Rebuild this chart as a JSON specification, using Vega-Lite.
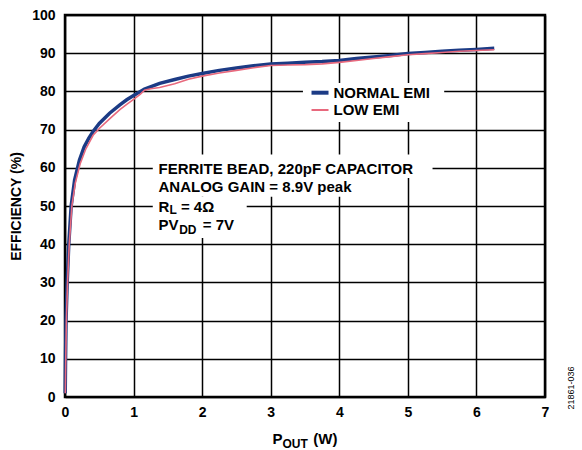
{
  "$schema": "https://vega.github.io/schema/vega-lite/v6.json",
  "width": 480,
  "height": 382,
  "autosize": {"type": "none"},
  "padding": {"left": 65, "top": 15, "right": 37, "bottom": 53},
  "background": "white",
  "config": {
    "font": "Liberation Sans",
    "view": {"stroke": "black", "strokeWidth": 2.5},
    "axis": {
      "domain": false,
      "ticks": false,
      "grid": true,
      "gridColor": "black",
      "gridWidth": 1.5,
      "gridOpacity": 1,
      "labelFlush": false,
      "labelOverlap": false,
      "labelFont": "Liberation Sans",
      "labelFontSize": 14,
      "labelFontWeight": "bold",
      "labelColor": "black",
      "titleFont": "Liberation Sans",
      "titleFontSize": 14,
      "titleFontWeight": "bold",
      "titleColor": "black"
    },
    "axisX": {"labelPadding": 8},
    "axisY": {"labelPadding": 10, "titlePadding": 8}
  },
  "datasets": {
    "curves": [
      {"series": "NORMAL EMI", "pout": 0.003, "eff": 1},
      {"series": "NORMAL EMI", "pout": 0.008, "eff": 10},
      {"series": "NORMAL EMI", "pout": 0.015, "eff": 20},
      {"series": "NORMAL EMI", "pout": 0.032, "eff": 30},
      {"series": "NORMAL EMI", "pout": 0.055, "eff": 40},
      {"series": "NORMAL EMI", "pout": 0.09, "eff": 50},
      {"series": "NORMAL EMI", "pout": 0.14, "eff": 56.8},
      {"series": "NORMAL EMI", "pout": 0.21, "eff": 62},
      {"series": "NORMAL EMI", "pout": 0.28, "eff": 65.5},
      {"series": "NORMAL EMI", "pout": 0.35, "eff": 67.8},
      {"series": "NORMAL EMI", "pout": 0.41, "eff": 69.5},
      {"series": "NORMAL EMI", "pout": 0.5, "eff": 71.6},
      {"series": "NORMAL EMI", "pout": 0.65, "eff": 74.3},
      {"series": "NORMAL EMI", "pout": 0.8, "eff": 76.5},
      {"series": "NORMAL EMI", "pout": 0.9, "eff": 77.8},
      {"series": "NORMAL EMI", "pout": 1.0, "eff": 78.9},
      {"series": "NORMAL EMI", "pout": 1.16, "eff": 80.6},
      {"series": "NORMAL EMI", "pout": 1.38, "eff": 82.1},
      {"series": "NORMAL EMI", "pout": 1.6, "eff": 83.1},
      {"series": "NORMAL EMI", "pout": 1.8, "eff": 84.0},
      {"series": "NORMAL EMI", "pout": 2.0, "eff": 84.7},
      {"series": "NORMAL EMI", "pout": 2.25, "eff": 85.5},
      {"series": "NORMAL EMI", "pout": 2.5, "eff": 86.1},
      {"series": "NORMAL EMI", "pout": 2.75, "eff": 86.7},
      {"series": "NORMAL EMI", "pout": 3.0, "eff": 87.2},
      {"series": "NORMAL EMI", "pout": 3.25, "eff": 87.4},
      {"series": "NORMAL EMI", "pout": 3.5, "eff": 87.6},
      {"series": "NORMAL EMI", "pout": 3.75, "eff": 87.8},
      {"series": "NORMAL EMI", "pout": 4.0, "eff": 88.1},
      {"series": "NORMAL EMI", "pout": 4.25, "eff": 88.6},
      {"series": "NORMAL EMI", "pout": 4.5, "eff": 89.0},
      {"series": "NORMAL EMI", "pout": 4.75, "eff": 89.4},
      {"series": "NORMAL EMI", "pout": 5.0, "eff": 89.9},
      {"series": "NORMAL EMI", "pout": 5.25, "eff": 90.2},
      {"series": "NORMAL EMI", "pout": 5.5, "eff": 90.5},
      {"series": "NORMAL EMI", "pout": 5.75, "eff": 90.8},
      {"series": "NORMAL EMI", "pout": 6.0, "eff": 91.0},
      {"series": "NORMAL EMI", "pout": 6.26, "eff": 91.3},
      {"series": "LOW EMI", "pout": 0.005, "eff": 1},
      {"series": "LOW EMI", "pout": 0.011, "eff": 10},
      {"series": "LOW EMI", "pout": 0.02, "eff": 20},
      {"series": "LOW EMI", "pout": 0.037, "eff": 30},
      {"series": "LOW EMI", "pout": 0.062, "eff": 40},
      {"series": "LOW EMI", "pout": 0.1, "eff": 50},
      {"series": "LOW EMI", "pout": 0.15, "eff": 56},
      {"series": "LOW EMI", "pout": 0.22, "eff": 61},
      {"series": "LOW EMI", "pout": 0.3, "eff": 64.8},
      {"series": "LOW EMI", "pout": 0.41, "eff": 68.5},
      {"series": "LOW EMI", "pout": 0.5, "eff": 70.3},
      {"series": "LOW EMI", "pout": 0.65, "eff": 72.8},
      {"series": "LOW EMI", "pout": 0.8, "eff": 75.2},
      {"series": "LOW EMI", "pout": 0.9, "eff": 76.6},
      {"series": "LOW EMI", "pout": 1.0, "eff": 77.9},
      {"series": "LOW EMI", "pout": 1.1, "eff": 79.3},
      {"series": "LOW EMI", "pout": 1.16, "eff": 80.3},
      {"series": "LOW EMI", "pout": 1.25, "eff": 80.7},
      {"series": "LOW EMI", "pout": 1.38, "eff": 81.0},
      {"series": "LOW EMI", "pout": 1.6, "eff": 82.0},
      {"series": "LOW EMI", "pout": 1.8, "eff": 83.2},
      {"series": "LOW EMI", "pout": 2.0, "eff": 84.0},
      {"series": "LOW EMI", "pout": 2.25, "eff": 84.8},
      {"series": "LOW EMI", "pout": 2.5, "eff": 85.5},
      {"series": "LOW EMI", "pout": 2.75, "eff": 86.2},
      {"series": "LOW EMI", "pout": 3.0, "eff": 86.8},
      {"series": "LOW EMI", "pout": 3.25, "eff": 86.9},
      {"series": "LOW EMI", "pout": 3.5, "eff": 87.0},
      {"series": "LOW EMI", "pout": 3.75, "eff": 87.2},
      {"series": "LOW EMI", "pout": 4.0, "eff": 87.6},
      {"series": "LOW EMI", "pout": 4.25, "eff": 88.1},
      {"series": "LOW EMI", "pout": 4.5, "eff": 88.6},
      {"series": "LOW EMI", "pout": 4.75, "eff": 89.1},
      {"series": "LOW EMI", "pout": 5.0, "eff": 89.6},
      {"series": "LOW EMI", "pout": 5.25, "eff": 89.9},
      {"series": "LOW EMI", "pout": 5.5, "eff": 90.2},
      {"series": "LOW EMI", "pout": 5.75, "eff": 90.5},
      {"series": "LOW EMI", "pout": 6.0, "eff": 90.7},
      {"series": "LOW EMI", "pout": 6.26, "eff": 90.9}
    ],
    "one": [{}]
  },
  "layer": [
    {
      "data": {"name": "curves"},
      "mark": {"type": "line", "strokeWidth": 3.5, "color": "#1c3b85"},
      "transform": [{"filter": "datum.series === 'NORMAL EMI'"}],
      "encoding": {
        "x": {"field": "pout", "type": "quantitative", "scale": {"domain": [0, 7]}, "axis": {"values": [0,1,2,3,4,5,6,7], "format": "d", "title": null}},
        "y": {"field": "eff", "type": "quantitative", "scale": {"domain": [0, 100]}, "axis": {"values": [0,10,20,30,40,50,60,70,80,90,100], "format": "d", "title": "EFFICIENCY (%)"}}
      }
    },
    {
      "data": {"name": "curves"},
      "mark": {"type": "line", "strokeWidth": 1.6, "color": "#e8697d"},
      "transform": [{"filter": "datum.series === 'LOW EMI'"}],
      "encoding": {
        "x": {"field": "pout", "type": "quantitative", "axis": {"values": [0,1,2,3,4,5,6,7], "format": "d", "title": null}},
        "y": {"field": "eff", "type": "quantitative", "axis": {"values": [0,10,20,30,40,50,60,70,80,90,100], "format": "d", "title": "EFFICIENCY (%)"}}
      }
    },
    {
      "data": {"name": "one"},
      "encoding": {
        "x": {"datum": 3.47, "type": "quantitative", "axis": {"values": [0,1,2,3,4,5,6,7], "format": "d", "title": null}},
        "x2": {"datum": 5.53},
        "y": {"datum": 72.0, "type": "quantitative", "axis": {"values": [0,10,20,30,40,50,60,70,80,90,100], "format": "d", "title": "EFFICIENCY (%)"}},
        "y2": {"datum": 82.2}
      },
      "mark": {"type": "rect", "fill": "white"}
    },
    {
      "data": {"name": "one"},
      "mark": {"type": "rect", "fill": "white"},
      "encoding": {
        "x": {"datum": 1.28, "type": "quantitative", "axis": {"values": [0,1,2,3,4,5,6,7], "format": "d", "title": null}},
        "x2": {"datum": 5.36},
        "y": {"datum": 57.3, "type": "quantitative", "axis": {"values": [0,10,20,30,40,50,60,70,80,90,100], "format": "d", "title": "EFFICIENCY (%)"}},
        "y2": {"datum": 63.5}
      }
    },
    {
      "data": {"name": "one"},
      "mark": {"type": "rect", "fill": "white"},
      "encoding": {
        "x": {"datum": 1.28, "type": "quantitative", "axis": {"values": [0,1,2,3,4,5,6,7], "format": "d", "title": null}},
        "x2": {"datum": 4.44},
        "y": {"datum": 52.4, "type": "quantitative", "axis": {"values": [0,10,20,30,40,50,60,70,80,90,100], "format": "d", "title": "EFFICIENCY (%)"}},
        "y2": {"datum": 57.3}
      }
    },
    {
      "data": {"name": "one"},
      "mark": {"type": "rect", "fill": "white"},
      "encoding": {
        "x": {"datum": 1.28, "type": "quantitative", "axis": {"values": [0,1,2,3,4,5,6,7], "format": "d", "title": null}},
        "x2": {"datum": 2.65},
        "y": {"datum": 41.6, "type": "quantitative", "axis": {"values": [0,10,20,30,40,50,60,70,80,90,100], "format": "d", "title": "EFFICIENCY (%)"}},
        "y2": {"datum": 52.4}
      }
    },
    {
      "data": {"name": "one"},
      "mark": {"type": "rule", "strokeWidth": 4, "color": "#1c3b85"},
      "encoding": {
        "x": {"datum": 3.595, "type": "quantitative", "axis": {"values": [0,1,2,3,4,5,6,7], "format": "d", "title": null}},
        "x2": {"datum": 3.843},
        "y": {"datum": 79.66, "type": "quantitative", "axis": {"values": [0,10,20,30,40,50,60,70,80,90,100], "format": "d", "title": "EFFICIENCY (%)"}}
      }
    },
    {
      "data": {"name": "one"},
      "mark": {"type": "rule", "strokeWidth": 2, "color": "#e8697d"},
      "encoding": {
        "x": {"datum": 3.595, "type": "quantitative", "axis": {"values": [0,1,2,3,4,5,6,7], "format": "d", "title": null}},
        "x2": {"datum": 3.843},
        "y": {"datum": 75.13, "type": "quantitative", "axis": {"values": [0,10,20,30,40,50,60,70,80,90,100], "format": "d", "title": "EFFICIENCY (%)"}}
      }
    },
    {
      "data": {"name": "one"},
      "mark": {"type": "text", "align": "left", "baseline": "middle", "fontSize": 15, "fontWeight": "bold", "color": "black"},
      "encoding": {
        "x": {"datum": 3.916, "type": "quantitative", "axis": {"values": [0,1,2,3,4,5,6,7], "format": "d", "title": null}},
        "y": {"datum": 79.66, "type": "quantitative", "axis": {"values": [0,10,20,30,40,50,60,70,80,90,100], "format": "d", "title": "EFFICIENCY (%)"}},
        "text": {"value": "NORMAL EMI"}
      }
    },
    {
      "data": {"name": "one"},
      "mark": {"type": "text", "align": "left", "baseline": "middle", "fontSize": 15, "fontWeight": "bold", "color": "black"},
      "encoding": {
        "x": {"datum": 3.916, "type": "quantitative", "axis": {"values": [0,1,2,3,4,5,6,7], "format": "d", "title": null}},
        "y": {"datum": 75.13, "type": "quantitative", "axis": {"values": [0,10,20,30,40,50,60,70,80,90,100], "format": "d", "title": "EFFICIENCY (%)"}},
        "text": {"value": "LOW EMI"}
      }
    },
    {
      "data": {"name": "one"},
      "mark": {"type": "text", "align": "left", "baseline": "middle", "fontSize": 15, "fontWeight": "bold", "color": "black"},
      "encoding": {
        "x": {"datum": 1.364, "type": "quantitative", "axis": {"values": [0,1,2,3,4,5,6,7], "format": "d", "title": null}},
        "y": {"datum": 59.69, "type": "quantitative", "axis": {"values": [0,10,20,30,40,50,60,70,80,90,100], "format": "d", "title": "EFFICIENCY (%)"}},
        "text": {"value": "FERRITE BEAD, 220pF CAPACITOR"}
      }
    },
    {
      "data": {"name": "one"},
      "mark": {"type": "text", "align": "left", "baseline": "middle", "fontSize": 15, "fontWeight": "bold", "color": "black"},
      "encoding": {
        "x": {"datum": 1.364, "type": "quantitative", "axis": {"values": [0,1,2,3,4,5,6,7], "format": "d", "title": null}},
        "y": {"datum": 54.97, "type": "quantitative", "axis": {"values": [0,10,20,30,40,50,60,70,80,90,100], "format": "d", "title": "EFFICIENCY (%)"}},
        "text": {"value": "ANALOG GAIN = 8.9V peak"}
      }
    },
    {
      "data": {"name": "one"},
      "mark": {"type": "text", "align": "left", "baseline": "middle", "fontSize": 15, "fontWeight": "bold", "color": "black"},
      "encoding": {
        "x": {"datum": 1.364, "type": "quantitative", "axis": {"values": [0,1,2,3,4,5,6,7], "format": "d", "title": null}},
        "y": {"datum": 49.82, "type": "quantitative", "axis": {"values": [0,10,20,30,40,50,60,70,80,90,100], "format": "d", "title": "EFFICIENCY (%)"}},
        "text": {"value": "R"}
      }
    },
    {
      "data": {"name": "one"},
      "mark": {"type": "text", "align": "left", "baseline": "middle", "fontSize": 12, "fontWeight": "bold", "color": "black"},
      "encoding": {
        "x": {"datum": 1.524, "type": "quantitative", "axis": {"values": [0,1,2,3,4,5,6,7], "format": "d", "title": null}},
        "y": {"datum": 49.0, "type": "quantitative", "axis": {"values": [0,10,20,30,40,50,60,70,80,90,100], "format": "d", "title": "EFFICIENCY (%)"}},
        "text": {"value": "L"}
      }
    },
    {
      "data": {"name": "one"},
      "mark": {"type": "text", "align": "left", "baseline": "middle", "fontSize": 15, "fontWeight": "bold", "color": "black"},
      "encoding": {
        "x": {"datum": 1.69, "type": "quantitative", "axis": {"values": [0,1,2,3,4,5,6,7], "format": "d", "title": null}},
        "y": {"datum": 49.82, "type": "quantitative", "axis": {"values": [0,10,20,30,40,50,60,70,80,90,100], "format": "d", "title": "EFFICIENCY (%)"}},
        "text": {"value": "= 4Ω"}
      }
    },
    {
      "data": {"name": "one"},
      "mark": {"type": "text", "align": "left", "baseline": "middle", "fontSize": 15, "fontWeight": "bold", "color": "black"},
      "encoding": {
        "x": {"datum": 1.364, "type": "quantitative", "axis": {"values": [0,1,2,3,4,5,6,7], "format": "d", "title": null}},
        "y": {"datum": 45.03, "type": "quantitative", "axis": {"values": [0,10,20,30,40,50,60,70,80,90,100], "format": "d", "title": "EFFICIENCY (%)"}},
        "text": {"value": "PV"}
      }
    },
    {
      "data": {"name": "one"},
      "mark": {"type": "text", "align": "left", "baseline": "middle", "fontSize": 12, "fontWeight": "bold", "color": "black"},
      "encoding": {
        "x": {"datum": 1.665, "type": "quantitative", "axis": {"values": [0,1,2,3,4,5,6,7], "format": "d", "title": null}},
        "y": {"datum": 43.8, "type": "quantitative", "axis": {"values": [0,10,20,30,40,50,60,70,80,90,100], "format": "d", "title": "EFFICIENCY (%)"}},
        "text": {"value": "DD"}
      }
    },
    {
      "data": {"name": "one"},
      "mark": {"type": "text", "align": "left", "baseline": "middle", "fontSize": 15, "fontWeight": "bold", "color": "black"},
      "encoding": {
        "x": {"datum": 2.01, "type": "quantitative", "axis": {"values": [0,1,2,3,4,5,6,7], "format": "d", "title": null}},
        "y": {"datum": 45.03, "type": "quantitative", "axis": {"values": [0,10,20,30,40,50,60,70,80,90,100], "format": "d", "title": "EFFICIENCY (%)"}},
        "text": {"value": "= 7V"}
      }
    },
    {
      "data": {"name": "one"},
      "mark": {"type": "text", "align": "left", "baseline": "middle", "fontSize": 15, "fontWeight": "bold", "color": "black"},
      "encoding": {
        "x": {"datum": 3.026, "type": "quantitative", "axis": {"values": [0,1,2,3,4,5,6,7], "format": "d", "title": null}},
        "y": {"datum": -11.1, "type": "quantitative", "axis": {"values": [0,10,20,30,40,50,60,70,80,90,100], "format": "d", "title": "EFFICIENCY (%)"}},
        "text": {"value": "P"}
      }
    },
    {
      "data": {"name": "one"},
      "mark": {"type": "text", "align": "left", "baseline": "middle", "fontSize": 12, "fontWeight": "bold", "color": "black"},
      "encoding": {
        "x": {"datum": 3.172, "type": "quantitative", "axis": {"values": [0,1,2,3,4,5,6,7], "format": "d", "title": null}},
        "y": {"datum": -12.3, "type": "quantitative", "axis": {"values": [0,10,20,30,40,50,60,70,80,90,100], "format": "d", "title": "EFFICIENCY (%)"}},
        "text": {"value": "OUT"}
      }
    },
    {
      "data": {"name": "one"},
      "mark": {"type": "text", "align": "left", "baseline": "middle", "fontSize": 15, "fontWeight": "bold", "color": "black"},
      "encoding": {
        "x": {"datum": 3.62, "type": "quantitative", "axis": {"values": [0,1,2,3,4,5,6,7], "format": "d", "title": null}},
        "y": {"datum": -11.1, "type": "quantitative", "axis": {"values": [0,10,20,30,40,50,60,70,80,90,100], "format": "d", "title": "EFFICIENCY (%)"}},
        "text": {"value": "(W)"}
      }
    },
    {
      "data": {"name": "one"},
      "mark": {"type": "text", "align": "center", "baseline": "middle", "fontSize": 9, "angle": 270, "color": "black"},
      "encoding": {
        "x": {"datum": 7.372, "type": "quantitative", "axis": {"values": [0,1,2,3,4,5,6,7], "format": "d", "title": null}},
        "y": {"datum": 2.36, "type": "quantitative", "axis": {"values": [0,10,20,30,40,50,60,70,80,90,100], "format": "d", "title": "EFFICIENCY (%)"}},
        "text": {"value": "21861-036"}
      }
    }
  ]
}
